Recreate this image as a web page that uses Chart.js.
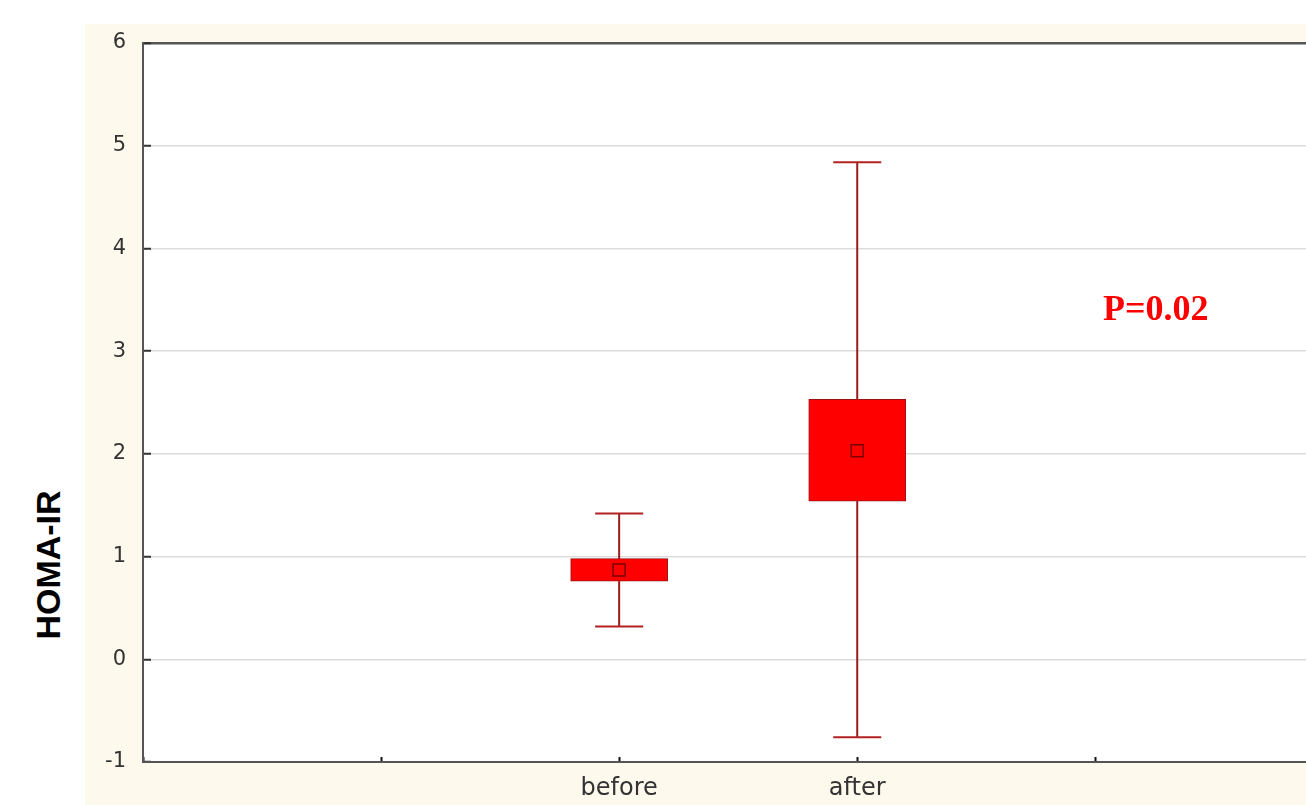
<!DOCTYPE html>
<html>
<head>
<meta charset="utf-8">
<script src="https://cdn.jsdelivr.net/npm/chart.js@4/dist/chart.umd.min.js"></script>
<style>
  html, body { margin: 0; padding: 0; background: #ffffff; overflow: hidden; }
  #panel { position: absolute; left: 85px; top: 24px; width: 1221px; height: 781px; background: #fef9ed; }
  #grafico { display: block; }
  #yTitle {
    position: absolute; left: -54px; top: 548px; width: 200px; height: 34px; line-height: 34px;
    text-align: center; font: bold 34px "Liberation Sans", Arial, sans-serif; color: #000;
    transform: rotate(-90deg); transform-origin: 50% 50%;
  }
  #pValue {
    position: absolute; left: 1103px; top: 287px; line-height: 1;
    font: bold 36px "Liberation Serif", "Times New Roman", serif; color: #ff0000;
  }
</style>
</head>
<body>
<div id="panel"><canvas id="grafico" width="1221" height="781"></canvas></div>
<div id="yTitle">HOMA-IR</div>
<div id="pValue">P=0.02</div>
<script>
// ===========================
// Dados
// ===========================
const grupos = ['before', 'after'];
const posGrupo = [2, 3];
const bigodeMin = [0.32, -0.76];
const caixaMin = [0.76, 1.54];
const media = [0.87, 2.03];
const caixaMax = [0.98, 2.53];
const bigodeMax = [1.42, 4.84];

// rótulos do eixo x nas posições 0..4
const rotulosX = ['', '', 'before', 'after', ''];
const yMin = -1;
const yMax = 6;

const corCaixa = '#ff0000';
const corBorda = '#a01010';
const corBigode = '#9b1c1c';

// ===========================
// Datasets
// ===========================
const datasets = [];

datasets.push({
    type: 'bar',
    label: 'caixa',
    data: grupos.map((g, i) => ({ x: posGrupo[i], y: [caixaMin[i], caixaMax[i]] })),
    backgroundColor: corCaixa,
    borderColor: corBorda,
    borderWidth: 1,
    borderSkipped: false,
    barThickness: 97,
    order: 1
});

grupos.forEach((g, i) => {
    datasets.push({
        type: 'line',
        label: 'bigode ' + g,
        data: [
            { x: posGrupo[i], y: bigodeMin[i] },
            { x: posGrupo[i], y: bigodeMax[i] }
        ],
        borderColor: corBigode,
        borderWidth: 2,
        pointRadius: 0,
        order: 3
    });
});

datasets.push({
    type: 'scatter',
    label: 'extremos',
    data: grupos.flatMap((g, i) => [
        { x: posGrupo[i], y: bigodeMin[i] },
        { x: posGrupo[i], y: bigodeMax[i] }
    ]),
    pointStyle: 'line',
    pointRadius: 24,
    borderColor: '#b22222',
    borderWidth: 2,
    order: 2
});

datasets.push({
    type: 'scatter',
    label: 'media',
    data: grupos.map((g, i) => ({ x: posGrupo[i], y: media[i] })),
    pointStyle: 'rect',
    pointRadius: 8.5,
    backgroundColor: corCaixa,
    borderColor: '#7a0000',
    borderWidth: 1.5,
    order: 0
});

// ===========================
// Fundo branco da área do gráfico
// ===========================
const fundoBranco = {
    id: 'fundoBranco',
    beforeDraw(chart) {
        const a = chart.chartArea;
        const c = chart.ctx;
        c.save();
        c.fillStyle = '#ffffff';
        c.fillRect(a.left, a.top, a.right - a.left, a.bottom - a.top);
        c.restore();
    }
};

// ===========================
// Gráfico
// ===========================
const ctx = document.getElementById('grafico').getContext('2d');

new Chart(ctx, {
    type: 'bar',
    data: { datasets: datasets },
    plugins: [fundoBranco],
    options: {
        responsive: false,
        animation: false,
        layout: {
            autoPadding: false,
            padding: { top: 19, right: 0, bottom: 0, left: 0 }
        },
        plugins: {
            legend: { display: false },
            tooltip: { enabled: false }
        },
        scales: {
            x: {
                type: 'linear',
                offset: false,
                min: 0,
                max: 4.885,
                afterFit: (scale) => {
                    scale.height = 43;
                    scale.paddingLeft = 0;
                    scale.paddingRight = 0;
                },
                ticks: {
                    stepSize: 1,
                    includeBounds: false,
                    autoSkip: false,
                    maxRotation: 0,
                    padding: 17,
                    color: '#333',
                    font: { family: 'DejaVu Sans', size: 24 },
                    callback: (v) => rotulosX[v] !== undefined ? rotulosX[v] : ''
                },
                grid: {
                    offset: false,
                    drawOnChartArea: false,
                    drawTicks: true,
                    tickLength: -5,
                    tickColor: '#111',
                    tickWidth: 2
                },
                border: { color: '#555', width: 2 }
            },
            y: {
                min: yMin,
                max: yMax,
                afterFit: (scale) => {
                    scale.width = 58;
                    scale.paddingTop = 0;
                    scale.paddingBottom = 0;
                },
                ticks: {
                    stepSize: 1,
                    padding: 25,
                    color: '#333',
                    font: { family: 'DejaVu Sans', size: 21 }
                },
                grid: {
                    color: (c) => c.tick && c.tick.value === yMax ? '#555' : '#dcdcdc',
                    lineWidth: (c) => c.tick && c.tick.value === yMax ? 2.5 : 1.5,
                    drawTicks: true,
                    tickLength: -8,
                    tickColor: '#333',
                    tickWidth: 2
                },
                border: { color: '#555', width: 2 }
            }
        }
    }
});
</script>
</body>
</html>
